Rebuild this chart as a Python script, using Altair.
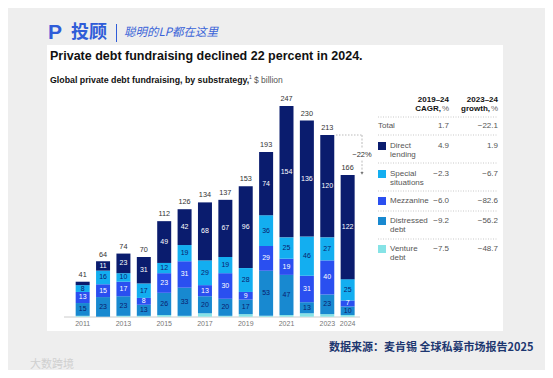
import altair as alt
import pandas as pd

# ---------------- data ----------------
years = list(range(2011, 2025))
venture = [1, 0, 1, 1, 2, 1, 4, 1, 3, 1, 2, 4, 3, 2]
distressed = [15, 23, 23, 13, 26, 33, 20, 20, 17, 53, 47, 13, 23, 10]
mezzanine = [13, 15, 17, 8, 23, 31, 13, 30, 9, 29, 19, 31, 40, 7]
special = [8, 16, 10, 17, 12, 19, 29, 19, 28, 36, 25, 46, 27, 25]
direct = [4, 11, 23, 31, 49, 42, 68, 67, 96, 74, 154, 136, 120, 122]
totals = [41, 64, 74, 70, 112, 126, 134, 137, 153, 193, 247, 230, 213, 166]
year_ticks = [2011, 2013, 2015, 2017, 2019, 2021, 2023, 2024]

series_names = ["Venture debt", "Distressed debt", "Mezzanine", "Special situations", "Direct lending"]
series_colors = ["#86e3e6", "#1889d0", "#2a4ff0", "#13aef0", "#0a1c6e"]
label_colors = ["#0a1c6e", "#0a1c6e", "#ffffff", "#0a1c6e", "#ffffff"]

table_rows = ["Total", "Direct lending", "Special situations", "Mezzanine", "Distressed debt", "Venture debt"]
cagr = ["1.7", "4.9", "−2.3", "−6.0", "−9.2", "−7.5"]
growth = ["−22.1", "1.9", "−6.7", "−82.6", "−56.2", "−48.7"]
change_from, change_to, change_label = 213, 166, "−22%"

# ---------------- build long table ----------------
rows = []
series_vals = [venture, distressed, mezzanine, special, direct]
for i, y in enumerate(years):
    base = 0
    for k, name in enumerate(series_names):
        v = series_vals[k][i]
        rows.append({"year": y, "series": name, "value": v, "y0": base, "y1": base + v,
                     "mid": base + v / 2, "lab": str(v) if v >= 6 else "",
                     "lcol": label_colors[k], "ord": k})
        base += v
df = pd.DataFrame(rows)
tot_df = pd.DataFrame({"year": years, "total": totals})
tick_df = pd.DataFrame({"year": year_ticks})

W, H = 537, 362
OFF = 8
FONT = "Liberation Sans"

xs = alt.Scale(domain=[2007.582, 2033.437], nice=False, zero=False)
ys = alt.Scale(domain=[-62.5, 361.9], nice=False, zero=False)
X = alt.X("year:Q", scale=xs, axis=None)

one = pd.DataFrame({"a": [0]})


def txt(s, x, y, size=8, color="#333333", weight="normal", align="left", font=FONT, style="normal", baseline="middle"):
    return alt.Chart(one).mark_text(text=s, fontSize=size, color=color, fontWeight=weight, align=align,
                                    font=font, fontStyle=style, baseline=baseline).encode(
        x=alt.value(x - OFF), y=alt.value(y - OFF))


def box(x1, y1, x2, y2, color):
    return alt.Chart(one).mark_rect(color=color).encode(
        x=alt.value(x1 - OFF), x2=alt.value(x2 - OFF), y=alt.value(y1 - OFF), y2=alt.value(y2 - OFF))


def hline(x1, x2, y, color="#bbbbbb", dash=None, width=0.8):
    kw = {"color": color, "strokeWidth": width}
    if dash:
        kw["strokeDash"] = dash
    return alt.Chart(one).mark_rule(**kw).encode(
        x=alt.value(x1 - OFF), x2=alt.value(x2 - OFF), y=alt.value(y - OFF))


layers = []
# background + card
layers.append(box(0, 0, 553, 378, "#eeeeee"))
layers.append(box(47, 45, 503, 331, "#ffffff"))

# logo
layers.append(txt("P", 55, 33, size=21, color="#2f5cd8", weight="bold", align="center"))
layers.append(txt("投顾", 89, 33, size=18, color="#2f5cd8", weight="bold", align="center", font="Noto Sans CJK SC"))
layers.append(box(116, 24, 117, 42, "#2f5cd8"))
layers.append(txt("聪明的LP都在这里", 124, 33, size=11.5, color="#3a64d8", style="italic", font="Noto Sans CJK SC"))

# title & subtitle
layers.append(txt("Private debt fundraising declined 22 percent in 2024.", 50, 56, size=12.5, color="#111111", weight="bold"))
layers.append(txt("Global private debt fundraising, by substrategy,", 50, 80, size=8.8, color="#111111", weight="bold"))
layers.append(txt("1", 249, 77, size=5, color="#333333"))
layers.append(txt("$ billion", 254, 80, size=8.5, color="#555555"))

# baseline
layers.append(hline(64, 360, 317, color="#cccccc", width=1))

# bars
bars = alt.Chart(df).mark_bar(size=14).encode(
    x=X,
    y=alt.Y("y0:Q", scale=ys, axis=None),
    y2="y1:Q",
    color=alt.Color("series:N", scale=alt.Scale(domain=series_names, range=series_colors), legend=None),
)
layers.append(bars)

seg_labels = alt.Chart(df).mark_text(fontSize=7, font=FONT, baseline="middle").encode(
    x=X, y=alt.Y("mid:Q", scale=ys), text="lab:N",
    color=alt.Color("lcol:N", scale=None))
layers.append(seg_labels)

tot_labels = alt.Chart(tot_df).mark_text(fontSize=7.3, font=FONT, baseline="bottom", dy=-3, color="#333333").encode(
    x=X, y=alt.Y("total:Q", scale=ys), text="total:Q")
layers.append(tot_labels)

ticks = alt.Chart(tick_df).mark_text(fontSize=7, font=FONT, color="#777777", baseline="middle").encode(
    x=X, y=alt.value(324 - OFF), text="year:N")
layers.append(ticks)

# -22% annotation
ann = pd.DataFrame({"v": [change_from]})
layers.append(alt.Chart(ann).mark_rule(color="#aaaaaa", strokeDash=[1.5, 1.5], strokeWidth=0.8).encode(
    x=alt.value(336 - OFF), x2=alt.value(362 - OFF), y=alt.Y("v:Q", scale=ys)))
seg1 = pd.DataFrame({"a": [change_from], "b": [197]})
seg2 = pd.DataFrame({"a": [183], "b": [change_to + 3]})
for s in (seg1, seg2):
    layers.append(alt.Chart(s).mark_rule(color="#aaaaaa", strokeDash=[2, 1.5], strokeWidth=0.8).encode(
        x=alt.value(362 - OFF), y=alt.Y("a:Q", scale=ys), y2="b:Q"))
layers.append(alt.Chart(pd.DataFrame({"v": [change_to + 2]})).mark_point(
    shape="triangle-down", filled=True, size=10, color="#777777", opacity=1).encode(
    x=alt.value(362 - OFF), y=alt.Y("v:Q", scale=ys)))
layers.append(alt.Chart(pd.DataFrame({"v": [190]})).mark_text(
    text=change_label, fontSize=7.5, font=FONT, color="#333333", align="center", baseline="middle").encode(
    x=alt.value(362 - OFF), y=alt.Y("v:Q", scale=ys)))

# table header
layers.append(txt("2019–24", 449, 100, size=8, color="#111111", weight="bold", align="right"))
layers.append(txt("CAGR,", 441, 109, size=8, color="#111111", weight="bold", align="right"))
layers.append(txt("%", 449, 109, size=8, color="#666666", align="right"))
layers.append(txt("2023–24", 498, 100, size=8, color="#111111", weight="bold", align="right"))
layers.append(txt("growth,", 490, 109, size=8, color="#111111", weight="bold", align="right"))
layers.append(txt("%", 498, 109, size=8, color="#666666", align="right"))

for yy in [117, 135, 163, 191, 211, 239]:
    layers.append(hline(378, 498, yy, color="#bbbbbb", dash=[1, 1.5], width=0.8))

row_y = [126, 146, 174, 201, 221, 249]
sq_color = [None, series_colors[4], series_colors[3], series_colors[2], series_colors[1], series_colors[0]]
for i, name in enumerate(table_rows):
    yv = row_y[i]
    if i == 0:
        layers.append(txt(name, 378, yv, size=8, color="#555555"))
    else:
        layers.append(box(378, yv - 4, 386, yv + 4, sq_color[i]))
        parts = name.split(" ")
        if name == "Mezzanine":
            layers.append(txt(name, 390, yv, size=8, color="#555555"))
        else:
            layers.append(txt(parts[0], 390, yv, size=8, color="#555555"))
            layers.append(txt(parts[1], 390, yv + 9, size=8, color="#555555"))
    layers.append(txt(cagr[i], 449, yv, size=8, color="#555555", align="right"))
    layers.append(txt(growth[i], 498, yv, size=8, color="#555555", align="right"))

# footer
layers.append(txt("数据来源：麦肯锡 全球私募市场报告2025", 329, 348, size=11, color="#1d3770", weight="bold",
                  font="Noto Sans CJK SC"))
layers.append(txt("大数跨境", 30, 365, size=11, color="#d0d0d0", font="Noto Sans CJK SC"))

chart = alt.layer(*layers).properties(width=W, height=H, padding=0, autosize=alt.AutoSizeParams(type="none")).configure_view(stroke=None)

chart.save("out.html", embed_options={"renderer": "svg", "actions": False})
